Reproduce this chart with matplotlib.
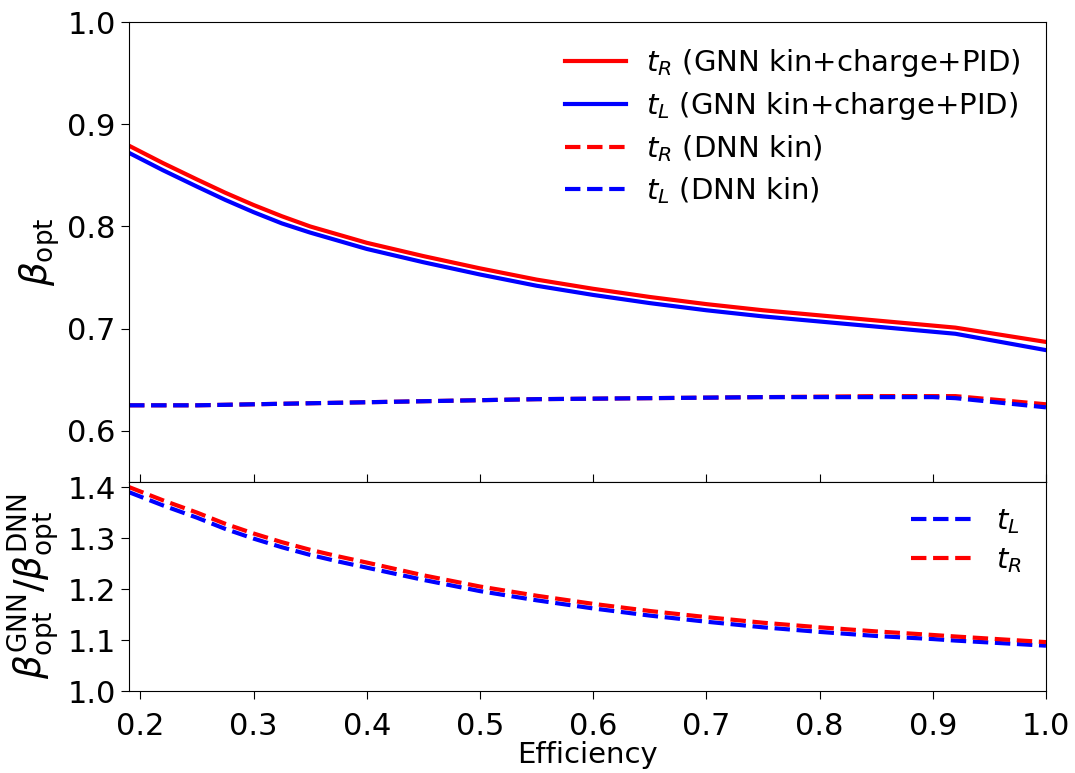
import matplotlib
matplotlib.use("Agg")
import matplotlib.pyplot as plt

# Signal efficiency grid
eff = [0.19, 0.22, 0.25, 0.275, 0.30, 0.325, 0.35, 0.375, 0.40, 0.45, 0.50,
       0.55, 0.60, 0.65, 0.70, 0.75, 0.80, 0.85, 0.90, 0.92, 1.00]

# Optimal beta, GNN (kin+charge+PID)
gnn_tR = [0.879, 0.862, 0.846, 0.833, 0.821, 0.810, 0.800, 0.792, 0.784, 0.771, 0.759,
          0.748, 0.739, 0.731, 0.724, 0.718, 0.713, 0.708, 0.703, 0.701, 0.687]
gnn_tL = [0.872, 0.855, 0.839, 0.826, 0.814, 0.803, 0.794, 0.786, 0.778, 0.765, 0.753,
          0.742, 0.733, 0.725, 0.718, 0.712, 0.707, 0.702, 0.697, 0.695, 0.679]

# Optimal beta, DNN (kin)
dnn_tR = [0.625, 0.625, 0.625, 0.6255, 0.626, 0.6265, 0.627, 0.6275, 0.628, 0.629, 0.630,
          0.631, 0.6315, 0.632, 0.6325, 0.633, 0.6335, 0.634, 0.634, 0.634, 0.626]
dnn_tL = [0.625, 0.625, 0.625, 0.6255, 0.626, 0.6265, 0.627, 0.6275, 0.628, 0.629, 0.630,
          0.631, 0.6315, 0.632, 0.6325, 0.633, 0.633, 0.633, 0.633, 0.632, 0.623]

# Ratio GNN / DNN
ratio_tR = [1.400, 1.374, 1.350, 1.328, 1.309, 1.292, 1.277, 1.264, 1.252, 1.227, 1.205,
            1.187, 1.171, 1.157, 1.145, 1.134, 1.125, 1.117, 1.110, 1.107, 1.096]
ratio_tL = [1.390, 1.364, 1.340, 1.318, 1.299, 1.282, 1.267, 1.254, 1.242, 1.218, 1.196,
            1.178, 1.162, 1.148, 1.136, 1.125, 1.116, 1.108, 1.102, 1.099, 1.089]

xticks = [0.2, 0.3, 0.4, 0.5, 0.6, 0.7, 0.8, 0.9, 1.0]
top_yticks = [0.6, 0.7, 0.8, 0.9, 1.0]
bot_yticks = [1.0, 1.1, 1.2, 1.3, 1.4]

FS_TICK = 22
FS_XLABEL = 21
FS_YLABEL = 27
FS_LEG = 21
LW = 3

fig = plt.figure(figsize=(10.75, 7.73), dpi=100)
left, right = 0.120, 0.973
y_top, y_mid, y_bot = 0.9715, 0.3765, 0.106
ax1 = fig.add_axes([left, y_mid, right - left, y_top - y_mid])
ax2 = fig.add_axes([left, y_bot, right - left, y_mid - y_bot], sharex=ax1)

ax1.plot(eff, gnn_tR, color="red", lw=LW, label=r"$t_R$ (GNN kin+charge+PID)")
ax1.plot(eff, gnn_tL, color="blue", lw=LW, label=r"$t_L$ (GNN kin+charge+PID)")
ax1.plot(eff, dnn_tR, color="red", lw=LW, ls="--", label=r"$t_R$ (DNN kin)")
ax1.plot(eff, dnn_tL, color="blue", lw=LW, ls="--", label=r"$t_L$ (DNN kin)")

ax1.set_xlim(0.19, 1.0)
ax1.set_ylim(0.55, 1.0)
ax1.set_yticks(top_yticks)
ax1.set_ylabel(r"$\beta_{\rm opt}$", fontsize=FS_YLABEL)
ax1.tick_params(axis="y", labelsize=FS_TICK, length=6)
ax1.tick_params(axis="x", direction="in", labelbottom=False, length=6)
ax1.legend(loc="upper right", frameon=False, fontsize=FS_LEG,
           handlelength=2.1, handletextpad=0.7, borderaxespad=0.45,
           labelspacing=0.38)

ax2.plot(eff, ratio_tL, color="blue", lw=LW, ls="--", label=r"$t_L$")
ax2.plot(eff, ratio_tR, color="red", lw=LW, ls="--", label=r"$t_R$")
ax2.set_ylim(1.0, 1.41)
ax2.set_yticks(bot_yticks)
ax2.set_xticks(xticks)
ax2.set_xticklabels([f"{v:.1f}" for v in xticks])
ax2.set_xlabel("Efficiency", fontsize=FS_XLABEL, labelpad=0)
ax2.set_ylabel(r"$\beta_{\rm opt}^{\rm GNN}/\beta_{\rm opt}^{\rm DNN}$", fontsize=FS_YLABEL)
ax2.tick_params(axis="y", labelsize=FS_TICK, length=6)
ax2.tick_params(axis="x", labelsize=FS_TICK, length=6, pad=9)
ax2.legend(loc="upper right", frameon=False, fontsize=FS_LEG,
           handlelength=2.1, handletextpad=0.8, borderaxespad=0.45,
           labelspacing=0.38)

fig.align_ylabels([ax1, ax2])
fig.savefig("out.png", dpi=100)
